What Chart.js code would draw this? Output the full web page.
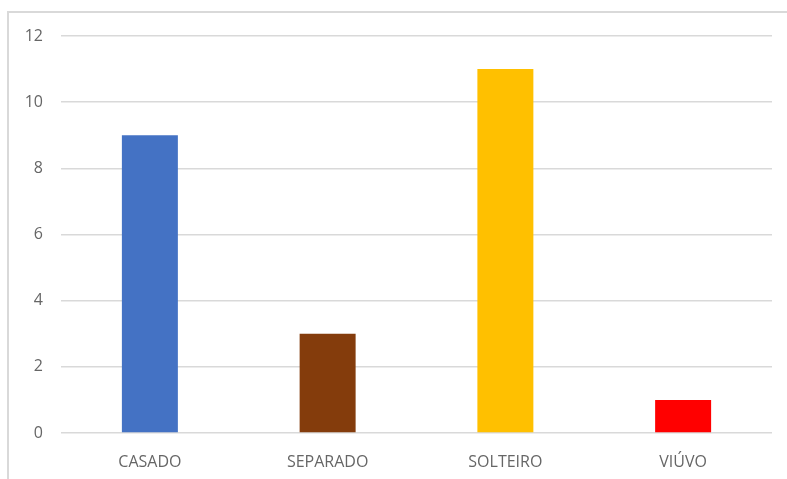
<!DOCTYPE html>
<html>
<head>
<meta charset="utf-8">
<script src="https://cdn.jsdelivr.net/npm/chart.js@4"></script>
<style>
  html, body { margin: 0; padding: 0; background: #fff; }
  #frame { position: absolute; left: 7px; top: 11px; width: 780px; height: 468px;
           border-top: 2px solid #d9d9d9; border-left: 2px solid #d9d9d9; box-sizing: border-box; }
  #wrap { position: absolute; left: 0; top: 0; width: 787px; height: 479px; }
</style>
</head>
<body>
<div id="frame"></div>
<div id="wrap"><canvas id="estado-chart" width="787" height="479"></canvas></div>
<script>
// DATA
var categorias = ['CASADO', 'SEPARADO', 'SOLTEIRO', 'VIÚVO'];
var valores = [9, 3, 11, 1];
var cores = ['#4472C4', '#843C0C', '#FFC000', '#FF0000'];
var ticksY = [0, 2, 4, 6, 8, 10, 12];

var estadoChart;
function loadEstadoChart() {
    var canvas = document.getElementById("estado-chart");
    var context = canvas.getContext("2d");
    estadoChart = new Chart(context, {
        type: 'bar',
        data: {
            labels: categorias,
            datasets: [{
                data: valores,
                backgroundColor: cores,
                barPercentage: 0.315,
                categoryPercentage: 1
            }]
        },
        options: {
            responsive: false,
            animation: false,
            layout: { padding: { top: 36, right: 15, left: 0, bottom: 0 } },
            plugins: { legend: { display: false }, tooltip: { enabled: false } },
            scales: {
                y: {
                    min: 0,
                    max: 12,
                    afterBuildTicks: function(scale) {
                        scale.ticks = ticksY.map(function(v) { return { value: v }; });
                    },
                    afterFit: function(scale) { scale.width = 61; },
                    grid: { color: '#d9d9d9', lineWidth: 1.5, drawTicks: false },
                    border: { display: false },
                    ticks: {
                        color: '#666666',
                        padding: 18,
                        font: { family: 'Open Sans', size: 16 }
                    }
                },
                x: {
                    afterFit: function(scale) { scale.height = 46; },
                    grid: { display: false },
                    border: { display: false },
                    ticks: {
                        color: '#666666',
                        padding: 12,
                        font: { family: 'Open Sans', size: 16 }
                    }
                }
            }
        }
    });
}
loadEstadoChart();
</script>
</body>
</html>
